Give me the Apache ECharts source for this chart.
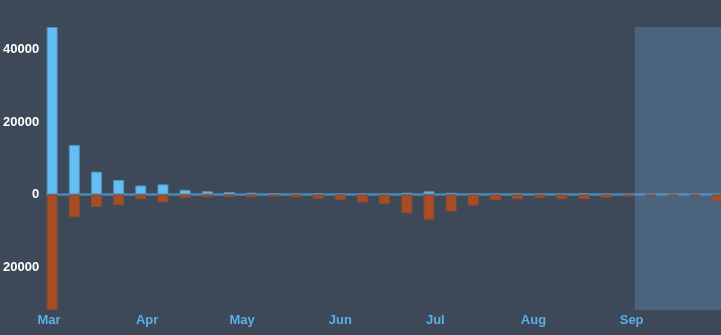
<!DOCTYPE html>
<html>
<head>
<meta charset="utf-8">
<script src="https://cdn.jsdelivr.net/npm/echarts@6/dist/echarts.min.js"></script>
<style>
html,body{margin:0;padding:0;background:#3d4958;}
#chart{width:721px;height:335px;}
</style>
</head>
<body>
<div id="chart"></div>
<script>
// Weekly dates (Mondays)
const weeks = [
  '2020-03-02','2020-03-09','2020-03-16','2020-03-23','2020-03-30',
  '2020-04-06','2020-04-13','2020-04-20','2020-04-27','2020-05-04',
  '2020-05-11','2020-05-18','2020-05-25','2020-06-01','2020-06-08',
  '2020-06-15','2020-06-22','2020-06-29','2020-07-06','2020-07-13',
  '2020-07-20','2020-07-27','2020-08-03','2020-08-10','2020-08-17',
  '2020-08-24','2020-08-31','2020-09-07','2020-09-14','2020-09-21',
  '2020-09-28'
];
const positiveValues = [
  46240, 13700, 6300, 4000, 2500,
  2800, 1300, 900, 700, 500,
  300, 100, 300, 200, 200,
  200, 500, 900, 500, 200,
  200, 200, 100, 200, 400,
  100, 50, 0, 0, 0,
  200
];
const negativeValues = [
  -31890, -6300, -3450, -3000, -1300,
  -2200, -1000, -800, -800, -800,
  -600, -800, -1200, -1500, -2200,
  -2600, -5200, -7000, -4700, -3100,
  -1600, -1300, -1000, -1300, -1300,
  -900, -600, -500, -500, -500,
  -1800
];
const highlightStart = '2020-09-02';

// visible time window of the x axis
const viewMin = new Date(2020, 1, 29, 10, 10).getTime();
const viewMax = new Date(2020, 8, 29, 5, 20).getTime();
const gridLeft = 46, gridRight = 0, chartWidth = 721;
const barW = 11;
const plotWidth = chartWidth - gridLeft - gridRight;
// ECharts widens a time axis holding bars by the bar width; pre-shrink so the final window is viewMin..viewMax
const pad = (viewMax - viewMin) * barW / plotWidth / 2;

const chart = echarts.init(document.getElementById('chart'), null, {renderer: 'canvas'});
const font = 'Liberation Sans, Arial, sans-serif';
chart.setOption({
  backgroundColor: '#3d4958',
  animation: false,
  grid: {left: gridLeft, right: gridRight, top: 27, bottom: 25},
  xAxis: {
    type: 'time',
    min: viewMin + pad,
    max: viewMax - pad,
    axisLine: {show: true, onZero: true, lineStyle: {color: '#4a88b2', width: 2.5}},
    axisTick: {show: false},
    splitLine: {show: false},
    axisLabel: {
      formatter: '{MMM}',
      color: '#5aafe6',
      fontSize: 13,
      fontWeight: 'bold',
      fontFamily: font,
      margin: 4
    }
  },
  yAxis: {
    type: 'value',
    min: 'dataMin',
    max: 'dataMax',
    axisLine: {show: false},
    axisTick: {show: false},
    splitLine: {show: false},
    axisLabel: {
      showMinLabel: false,
      showMaxLabel: false,
      color: '#ffffff',
      fontSize: 13,
      fontWeight: 'bold',
      fontFamily: font,
      formatter: v => String(Math.abs(v))
    }
  },
  series: [
    {
      type: 'bar',
      stack: 'total',
      barWidth: barW,
      data: weeks.map((d, i) => [d, positiveValues[i]]),
      itemStyle: {color: '#64bef4', borderColor: '#4f8fbf', borderWidth: 1},
      markArea: {
        silent: true,
        itemStyle: {color: 'rgba(110,160,210,0.3)'},
        data: [[{xAxis: highlightStart}, {xAxis: viewMax}]]
      }
    },
    {
      type: 'bar',
      stack: 'total',
      barWidth: barW,
      data: weeks.map((d, i) => [d, negativeValues[i]]),
      itemStyle: {color: '#a64d26', borderColor: '#8a4a30', borderWidth: 1}
    }
  ]
});
</script>
</body>
</html>
